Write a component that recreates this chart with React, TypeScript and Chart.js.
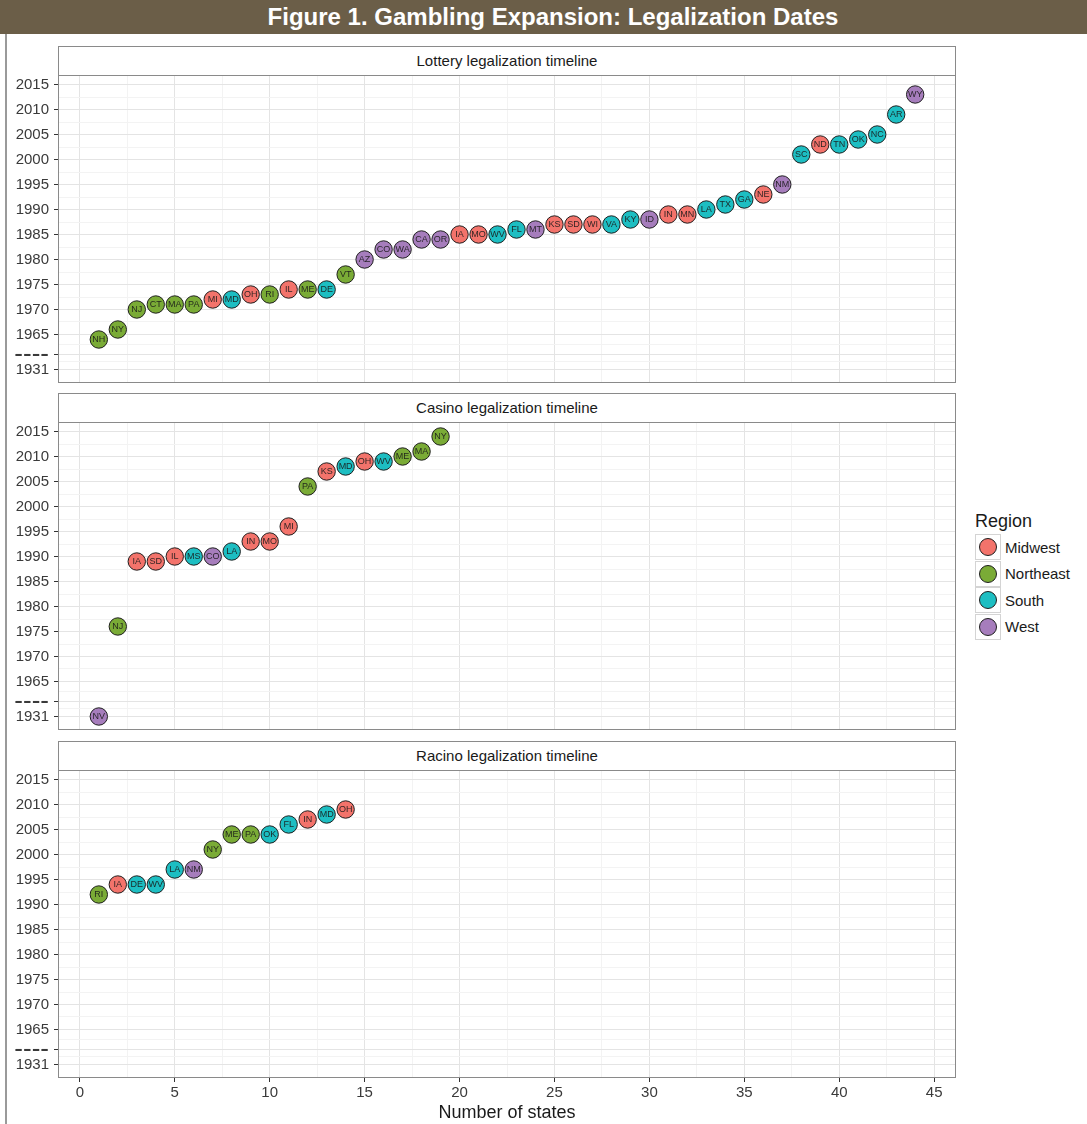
import React, { useEffect, useRef } from "react";
import { Chart, registerables } from "chart.js";
Chart.register(...registerables);

const FONT = "'Liberation Sans', Arial, Helvetica, sans-serif";

// Regions
const regionNames = ["Midwest", "Northeast", "South", "West"];
const regionCodes = ["MW", "NE", "S", "W"];
const regionColors = ["#F3736B", "#7AAB36", "#1DBEC2", "#A67DBC"];

// Lottery
const lotteryStates = ["NH","NY","NJ","CT","MA","PA","MI","MD","OH","RI","IL","ME","DE","VT","AZ","CO","WA","CA","OR","IA","MO","WV","FL","MT","KS","SD","WI","VA","KY","ID","IN","MN","LA","TX","GA","NE","NM","SC","ND","TN","OK","NC","AR","WY"];
const lotteryYears = [1964,1966,1970,1971,1971,1971,1972,1972,1973,1973,1974,1974,1974,1977,1980,1982,1982,1984,1984,1985,1985,1985,1986,1986,1987,1987,1987,1987,1988,1988,1989,1989,1990,1991,1992,1993,1995,2001,2003,2003,2004,2005,2009,2013];
const lotteryRegions = ["NE","NE","NE","NE","NE","NE","MW","S","MW","NE","MW","NE","S","NE","W","W","W","W","W","MW","MW","S","S","W","MW","MW","MW","S","S","W","MW","MW","S","S","S","MW","W","S","MW","S","S","S","S","W"];

// Casino
const casinoStates = ["NV","NJ","IA","SD","IL","MS","CO","LA","IN","MO","MI","PA","KS","MD","OH","WV","ME","MA","NY"];
const casinoYears = [1931,1976,1989,1989,1990,1990,1990,1991,1993,1993,1996,2004,2007,2008,2009,2009,2010,2011,2014];
const casinoRegions = ["W","NE","MW","MW","MW","S","W","S","MW","MW","MW","NE","MW","S","MW","S","NE","NE","NE"];

// Racino
const racinoStates = ["RI","IA","DE","WV","LA","NM","NY","ME","PA","OK","FL","IN","MD","OH"];
const racinoYears = [1992,1994,1994,1994,1997,1997,2001,2004,2004,2004,2006,2007,2008,2009];
const racinoRegions = ["NE","MW","S","S","S","W","NE","NE","NE","S","S","MW","S","MW"];

// Axis ticks
const xTickValues = [0, 5, 10, 15, 20, 25, 30, 35, 40, 45];
const xMinorValues = [2.5, 7.5, 12.5, 17.5, 22.5, 27.5, 32.5, 37.5, 42.5];
const yTickLabels = ["1931", "----", "1965", "1970", "1975", "1980", "1985", "1990", "1995", "2000", "2005", "2010", "2015"];
const yTickPositions = [1958, 1961, 1965, 1970, 1975, 1980, 1985, 1990, 1995, 2000, 2005, 2010, 2015];
const yMinorPositions = [1959.5, 1963, 1967.5, 1972.5, 1977.5, 1982.5, 1987.5, 1992.5, 1997.5, 2002.5, 2007.5, 2012.5];
const BREAK_POSITION = 1958; // where years before the break are placed

const panelTitles = ["Lottery legalization timeline", "Casino legalization timeline", "Racino legalization timeline"];

const mapYear = (yr: number) => (yr < 1960 ? BREAK_POSITION : yr);

const MAJOR_GRID = "#e4e4e4";
const MINOR_GRID = "#f3f3f3";
const BORDER = "#8a8a8a";

const decorPlugin = {
  id: "decor",
  afterDatasetsDraw(chart: any) {
    const ctx = chart.ctx;
    const ds = chart.data.datasets[0];
    const meta = chart.getDatasetMeta(0);
    ctx.save();
    ctx.font = `9px ${FONT}`;
    ctx.textAlign = "center";
    ctx.textBaseline = "middle";
    ctx.fillStyle = "rgba(25,25,25,0.9)";
    meta.data.forEach((el: any, i: number) => {
      ctx.fillText(ds.stateLabels[i], el.x, el.y + 0.5);
    });
    ctx.restore();
  },
  afterDraw(chart: any) {
    const { left, top, right, bottom } = chart.chartArea;
    const ctx = chart.ctx;
    ctx.save();
    ctx.strokeStyle = BORDER;
    ctx.lineWidth = 1;
    ctx.strokeRect(Math.round(left) + 0.5, Math.round(top) + 0.5, Math.round(right - left) - 1, Math.round(bottom - top) - 1);
    ctx.restore();
  },
};

function Panel({ states, years, regions, showX, top, height }: any) {
  const ref = useRef<HTMLCanvasElement>(null);
  useEffect(() => {
    if (!ref.current) return;
    const points = years.map((yr: number, i: number) => ({ x: i + 1, y: mapYear(yr) }));
    const colors = regions.map((r: string) => regionColors[regionCodes.indexOf(r)]);
    const chart = new Chart(ref.current, {
      type: "scatter",
      data: {
        datasets: [
          {
            data: points,
            backgroundColor: colors,
            borderColor: "#1f1f1f",
            borderWidth: 1,
            pointRadius: 8.7,
            pointHoverRadius: 8.7,
            clip: false,
            stateLabels: states,
          } as any,
        ],
      },
      options: {
        animation: false,
        responsive: false,
        maintainAspectRatio: false,
        events: [],
        layout: { autoPadding: false, padding: { top: 10, right: 4, bottom: showX ? 0 : 6, left: 0 } },
        plugins: { legend: { display: false }, tooltip: { enabled: false } },
        scales: {
          x: {
            type: "linear",
            min: -1.15,
            max: 46.15,
            afterBuildTicks: (scale: any) => {
              scale.ticks = [...xTickValues, ...xMinorValues].sort((a, b) => a - b).map((v) => ({ value: v }));
            },
            afterFit: (scale: any) => {
              scale.height = showX ? 46 : 0;
              scale.paddingLeft = 0;
              scale.paddingRight = 0;
            },
            border: { display: false },
            grid: {
              color: (c: any) => (c.tick && xTickValues.includes(c.tick.value) ? MAJOR_GRID : MINOR_GRID),
              lineWidth: 1,
              drawTicks: showX,
              tickLength: 4,
              tickColor: (c: any) => (c.tick && xTickValues.includes(c.tick.value) ? "#333" : "rgba(0,0,0,0)"),
            },
            ticks: {
              display: showX,
              autoSkip: false,
              maxRotation: 0,
              padding: 2,
              color: "#3a3a3a",
              font: { family: FONT, size: 15 },
              callback: (v: any) => (xTickValues.includes(v) ? String(v) : ""),
            },
            title: {
              display: showX,
              text: "Number of states",
              color: "#1a1a1a",
              font: { family: FONT, size: 18 },
              padding: { top: 0, bottom: 0 },
            },
          },
          y: {
            type: "linear",
            min: 1955.3,
            max: 2016.9,
            afterBuildTicks: (scale: any) => {
              scale.ticks = [...yTickPositions, ...yMinorPositions].sort((a, b) => a - b).map((v) => ({ value: v }));
            },
            afterFit: (scale: any) => {
              scale.width = 58;
              scale.paddingTop = 0;
              scale.paddingBottom = 0;
            },
            border: { display: false },
            grid: {
              color: (c: any) => (c.tick && yTickPositions.includes(c.tick.value) ? MAJOR_GRID : MINOR_GRID),
              lineWidth: 1,
              drawTicks: true,
              tickLength: 4,
              tickColor: (c: any) => (c.tick && yTickPositions.includes(c.tick.value) ? "#333" : "rgba(0,0,0,0)"),
            },
            ticks: {
              autoSkip: false,
              padding: 5,
              color: "#3a3a3a",
              font: (c: any) =>
                c.tick && c.tick.value === yTickPositions[1]
                  ? { family: FONT, size: 26 }
                  : { family: FONT, size: 15 },
              callback: (v: any) => {
                const idx = yTickPositions.indexOf(v);
                return idx >= 0 ? yTickLabels[idx] : "";
              },
            },
          },
        },
      },
      plugins: [decorPlugin],
    } as any);
    return () => chart.destroy();
  }, []);
  return (
    <canvas
      ref={ref}
      width={960}
      height={height}
      style={{ position: "absolute", left: 0, top, width: 960, height }}
    />
  );
}

export default function App() {
  const plotTops = [75, 422, 770];
  return (
    <div
      style={{
        position: "absolute",
        left: 0,
        top: 0,
        width: 1087,
        height: 1124,
        background: "#fff",
        fontFamily: FONT,
        overflow: "hidden",
      }}
    >
      <div
        style={{
          position: "absolute",
          left: 0,
          top: 0,
          width: 1087,
          height: 34,
          background: "#6B5E48",
          color: "#fff",
          fontWeight: "bold",
          fontSize: 24,
          lineHeight: "34px",
          textAlign: "center",
          paddingLeft: 19,
          boxSizing: "border-box",
        }}
      >
        Figure 1. Gambling Expansion: Legalization Dates
      </div>
      <div style={{ position: "absolute", left: 5, top: 34, width: 2, height: 1090, background: "#9a9a9a" }} />
      <Panel states={lotteryStates} years={lotteryYears} regions={lotteryRegions} showX={false} top={plotTops[0] - 10} height={324} />
      <Panel states={casinoStates} years={casinoYears} regions={casinoRegions} showX={false} top={plotTops[1] - 10} height={324} />
      <Panel states={racinoStates} years={racinoYears} regions={racinoRegions} showX={true} top={plotTops[2] - 10} height={364} />
      {panelTitles.map((t, i) => (
        <div
          key={t}
          style={{
            position: "absolute",
            left: 58,
            top: plotTops[i] - 29,
            width: 898,
            height: 30,
            border: `1px solid ${BORDER}`,
            boxSizing: "border-box",
            background: "#fff",
            color: "#1a1a1a",
            fontSize: 15,
            lineHeight: "28px",
            textAlign: "center",
          }}
        >
          {t}
        </div>
      ))}
      <div style={{ position: "absolute", left: 975, top: 510, fontSize: 18, color: "#1a1a1a", lineHeight: "22px" }}>Region</div>
      {regionNames.map((name, i) => (
        <div key={name} style={{ position: "absolute", left: 975, top: 534 + i * 26.5, height: 26, display: "flex", alignItems: "center" }}>
          <div
            style={{
              width: 26,
              height: 26,
              boxSizing: "border-box",
              border: "1px solid #d4d4d4",
              display: "flex",
              alignItems: "center",
              justifyContent: "center",
            }}
          >
            <div
              style={{
                width: 18,
                height: 18,
                boxSizing: "border-box",
                borderRadius: "50%",
                border: "1px solid #1f1f1f",
                background: regionColors[i],
              }}
            />
          </div>
          <div style={{ marginLeft: 4, fontSize: 15, color: "#1a1a1a" }}>{name}</div>
        </div>
      ))}
    </div>
  );
}
